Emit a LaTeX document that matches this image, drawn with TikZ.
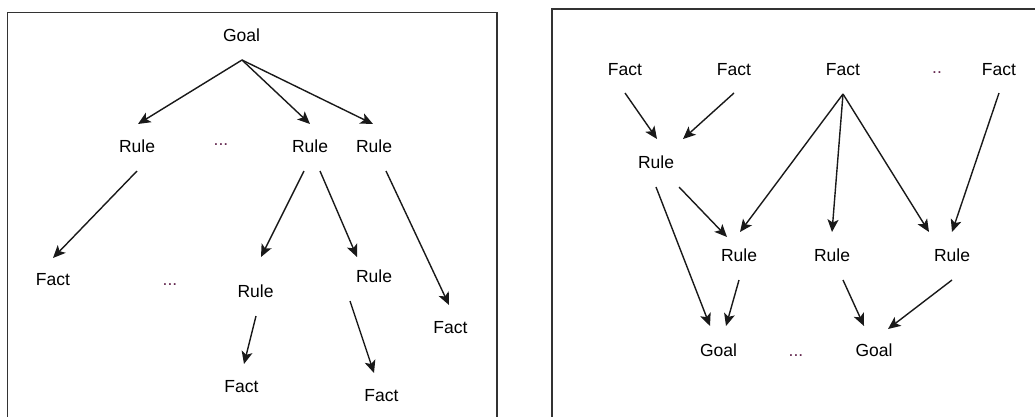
\documentclass[tikz,border=0pt]{standalone}
\usepackage{fontspec}
\setmainfont{Liberation Sans}
\usetikzlibrary{arrows.meta}
\definecolor{dotcol}{RGB}{100,40,80}
\begin{document}
\begin{tikzpicture}[x=1pt,y=-1pt,
  lbl/.style={inner sep=0pt, font=\fontsize{17.5}{20}\selectfont, text=black},
  dots/.style={inner sep=0pt, font=\fontsize{17.5}{20}\selectfont, text=dotcol},
  arr/.style={draw=black!90, line width=1.4pt, -{Stealth[length=12.5pt,width=11pt,inset=3pt]}},
  frame/.style={draw=black!80, line width=1.8pt}]
\useasboundingbox (0,0) rectangle (1035,416);
\draw[frame] (7.5,440) -- (7.5,12.5) -- (497,12.5) -- (497,440);
\draw[frame] (552,440) -- (552,9) -- (1050,9);
% left panel
\node[lbl] (g) at (241.5,35) {Goal};
\node[lbl] (r1) at (137,146.5) {Rule};
\node[dots] (d1) at (221,145) {...};
\node[lbl] (r2) at (310,146.5) {Rule};
\node[lbl] (r3) at (374,146.5) {Rule};
\node[lbl] (fL) at (53,280) {Fact};
\node[dots] (d2) at (170,285) {...};
\node[lbl] (r4) at (255.5,291) {Rule};
\node[lbl] (r5) at (374,276) {Rule};
\node[lbl] (fR) at (450.5,327.5) {Fact};
\node[lbl] (f4) at (241.5,386.5) {Fact};
\node[lbl] (f5) at (381.5,395.5) {Fact};
\draw[arr] ([shift={(0.5,25)}]g.center) -- ([shift={(1,-22.5)}]r1.center);
\draw[arr] ([shift={(0.5,25)}]g.center) -- ([shift={(0,-22.5)}]r2.center);
\draw[arr] ([shift={(0.5,25)}]g.center) -- ([shift={(-1,-22.5)}]r3.center);
\draw[arr] ([shift={(0,24.5)}]r1.center) -- ([shift={(0,-22)}]fL.center);
\draw[arr] ([shift={(-6,24.5)}]r2.center) -- ([shift={(5.5,-34)}]r4.center);
\draw[arr] ([shift={(10,24.5)}]r2.center) -- ([shift={(-17,-19)}]r5.center);
\draw[arr] ([shift={(12,24.5)}]r3.center) -- ([shift={(-1.5,-22.5)}]fR.center);
\draw[arr] ([shift={(0.5,25)}]r4.center) -- ([shift={(2.5,-22.5)}]f4.center);
\draw[arr] ([shift={(-24,25)}]r5.center) -- ([shift={(-7.5,-22.5)}]f5.center);
% right panel
\node[lbl] (a1) at (625,69.5) {Fact};
\node[lbl] (a2) at (734,69.5) {Fact};
\node[lbl] (a3) at (843,69.5) {Fact};
\node[dots] (dd) at (937,73) {..};
\node[lbl] (a4) at (999,69.5) {Fact};
\node[lbl] (ra) at (656,162) {Rule};
\node[lbl] (rb) at (739,255.5) {Rule};
\node[lbl] (rc) at (832,255.5) {Rule};
\node[lbl] (rd) at (952,255.5) {Rule};
\node[lbl] (g1) at (718.5,350) {Goal};
\node[dots] (dd2) at (796,356) {...};
\node[lbl] (g2) at (874,350) {Goal};
\draw[arr] ([shift={(0,23.5)}]a1.center) -- ([shift={(1,-23)}]ra.center);
\draw[arr] ([shift={(0,23.5)}]a2.center) -- ([shift={(27,-23)}]ra.center);
\draw[arr] ([shift={(0,24.5)}]a3.center) -- ([shift={(1,-23.5)}]rb.center);
\draw[arr] ([shift={(0,24.5)}]a3.center) -- ([shift={(0,-23.5)}]rc.center);
\draw[arr] ([shift={(0,24.5)}]a3.center) -- ([shift={(-23,-23.5)}]rd.center);
\draw[arr] ([shift={(0,23.5)}]a4.center) -- ([shift={(0,-23.5)}]rd.center);
\draw[arr] ([shift={(23,25)}]ra.center) -- ([shift={(-12,-18.5)}]rb.center);
\draw[arr] ([shift={(0,25)}]ra.center) -- ([shift={(-8.5,-24)}]g1.center);
\draw[arr] ([shift={(0,24.5)}]rb.center) -- ([shift={(7.5,-24)}]g1.center);
\draw[arr] ([shift={(11,24.5)}]rc.center) -- ([shift={(-10,-24)}]g2.center);
\draw[arr] ([shift={(0,24.5)}]rd.center) -- ([shift={(14,-21)}]g2.center);
\end{tikzpicture}
\end{document}
